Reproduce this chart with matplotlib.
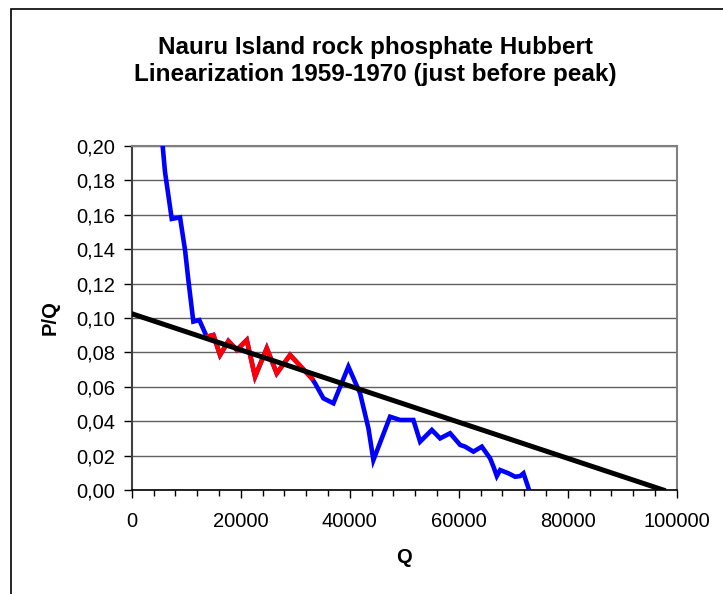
import matplotlib
matplotlib.use("Agg")
import matplotlib.pyplot as plt
from matplotlib.patches import Rectangle
from matplotlib.ticker import MultipleLocator, FuncFormatter

plt.rcParams["font.family"] = ["Liberation Sans", "DejaVu Sans"]

## Hubbert linearization data (Q cumulative, P/Q)
q_all = [5250, 6100, 7340, 8860, 9780, 10390, 11300, 12400, 13760,
         14980, 16200, 17730, 19270, 21100, 22620, 24770, 26600, 29050,
         33030, 33630, 35160, 37000, 39740, 41890, 43420, 44330, 47390,
         49230, 51670, 52900, 55050, 56570, 58400, 60240, 61160, 62680,
         64220, 65740, 66350, 66970, 67580, 69100, 70330, 71250, 71860,
         72480, 72780]
pq_all = [0.215, 0.185, 0.1576, 0.1585, 0.1395, 0.122, 0.0979, 0.0988, 0.0891,
          0.0901, 0.0785, 0.0866, 0.0814, 0.0872, 0.0659, 0.0824, 0.0678, 0.0785,
          0.0649, 0.062, 0.0533, 0.0504, 0.0717, 0.0562, 0.0359, 0.0174, 0.0426,
          0.0407, 0.0407, 0.0281, 0.0349, 0.0300, 0.0330, 0.0262, 0.0252, 0.0223,
          0.0252, 0.0184, 0.0136, 0.0081, 0.0116, 0.0097, 0.0077, 0.0081, 0.0097,
          0.0039, 0.001]

## 1959-1970 fit window
q_fit = [13760, 14980, 16200, 17730, 19270, 21100, 22620, 24770, 26600, 29050, 33030]
pq_fit = [0.0891, 0.0901, 0.0785, 0.0866, 0.0814, 0.0872, 0.0659, 0.0824, 0.0678, 0.0785, 0.0649]

## linear fit end points
q_line = [0, 97500]
pq_line = [0.1025, 0.0]

fig = plt.figure(figsize=(7.23, 5.94), dpi=100)
ax = fig.add_axes([0.1822, 0.1751, 0.7540, 0.5791])

ax.plot(q_all, pq_all, color="#0000ff", lw=3.3, solid_joinstyle="miter", zorder=3)
ax.plot(q_fit, pq_fit, color="#ff0000", lw=3.3, solid_joinstyle="miter", zorder=4)
ax.plot(q_line, pq_line, color="black", lw=3.6, zorder=5)

ax.set_xlim(0, 100000)
ax.set_ylim(0, 0.2)
ax.xaxis.set_major_locator(MultipleLocator(20000))
ax.xaxis.set_minor_locator(MultipleLocator(4000))
ax.yaxis.set_major_locator(MultipleLocator(0.02))
ax.yaxis.set_major_formatter(FuncFormatter(lambda v, p: ("%.2f" % v).replace(".", ",")))
ax.grid(True, axis="y", color="#606060", lw=1.0)
ax.set_axisbelow(True)

for s in ["top", "right"]:
    ax.spines[s].set_color("#808080")
    ax.spines[s].set_linewidth(1.5)
ax.spines["left"].set_color("#404040")
ax.spines["left"].set_linewidth(1.5)
ax.spines["bottom"].set_color("black")
ax.spines["bottom"].set_linewidth(1.2)

ax.tick_params(axis="both", which="major", labelsize=14.5, direction="out",
               length=6, width=1, pad=6)
ax.tick_params(axis="x", which="minor", direction="out", length=4, width=1)
ax.tick_params(axis="x", which="major", pad=10)

ax.set_xlabel("Q", fontsize=14.5, fontweight="bold", labelpad=12)
ax.set_ylabel("P/Q", fontsize=14.5, fontweight="bold", labelpad=12)

fig.text(0.519, 0.898, "Nauru Island rock phosphate Hubbert\nLinearization 1959-1970 (just before peak)",
         ha="center", va="center", fontsize=17.5, fontweight="bold", linespacing=1.22)

## outer chart frame
fig.patches.append(Rectangle((11 / 723, -0.1), 1.2, 1.1 - 9 / 594, transform=fig.transFigure,
                             fill=False, edgecolor="black", lw=1.2))

fig.savefig("out.png", dpi=100)
